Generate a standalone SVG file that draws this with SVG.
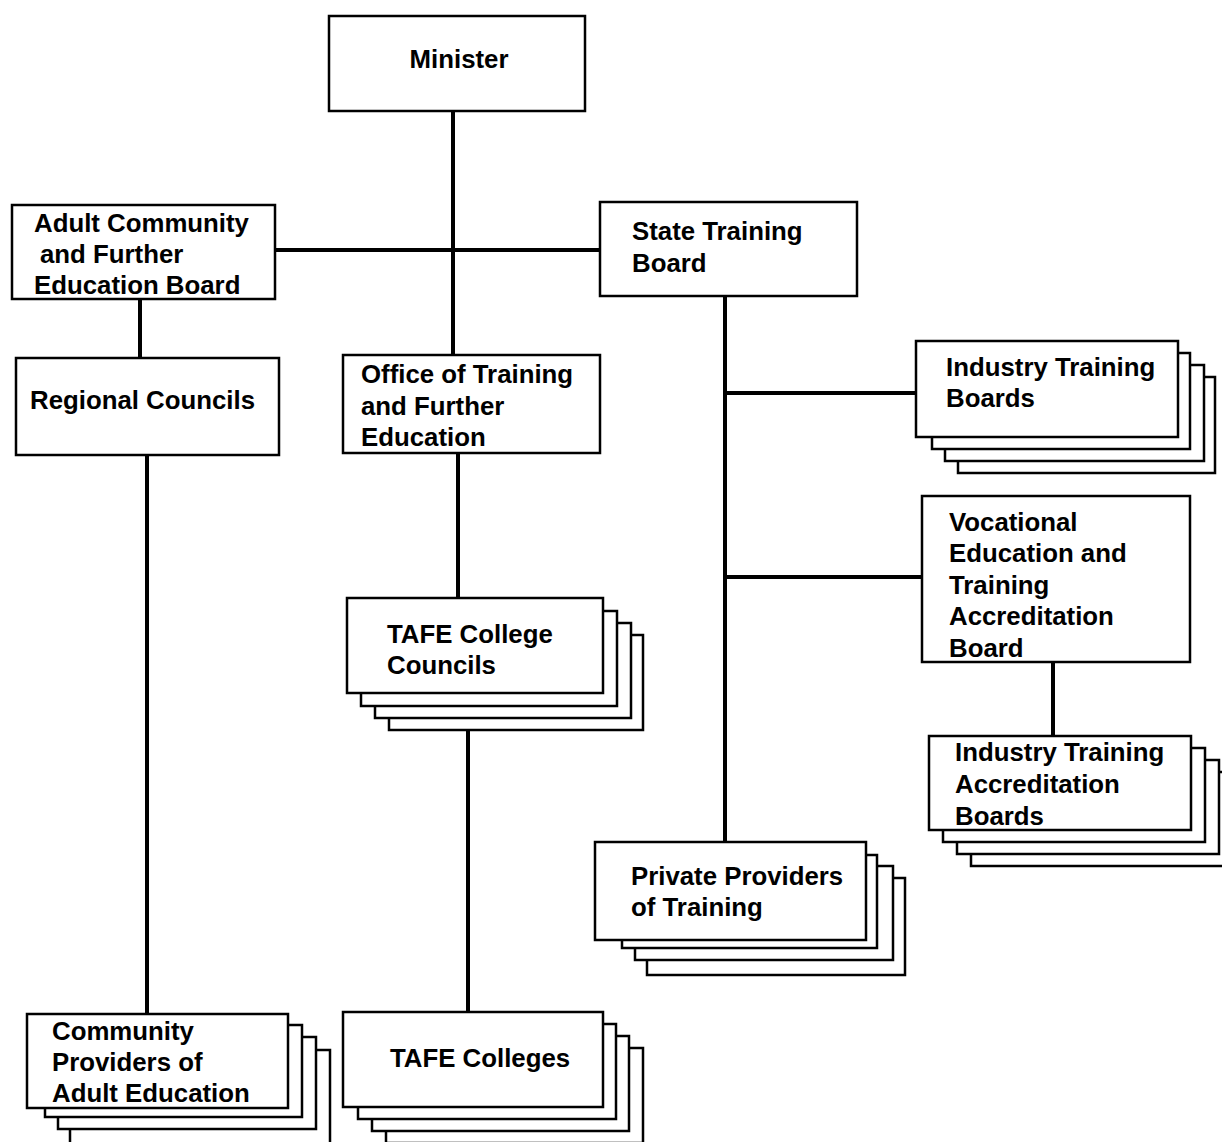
<svg xmlns="http://www.w3.org/2000/svg" width="1222" height="1142" viewBox="0 0 1222 1142">
<style>
.b{fill:#fff;stroke:#000;stroke-width:2.5}
.c{stroke:#000;stroke-width:4;fill:none}
text{font-family:"Liberation Sans",Arial,sans-serif;font-weight:bold;font-size:25.8px;fill:#000}
</style>
<rect width="1222" height="1142" fill="#fff"/>
<g id="connectors">
<line class="c" x1="453" y1="111" x2="453" y2="355"/>
<line class="c" x1="275" y1="250" x2="600" y2="250"/>
<line class="c" x1="140" y1="299" x2="140" y2="358"/>
<line class="c" x1="147" y1="455" x2="147" y2="1014"/>
<line class="c" x1="458" y1="453" x2="458" y2="598"/>
<line class="c" x1="468" y1="730" x2="468" y2="1012"/>
<line class="c" x1="725" y1="296" x2="725" y2="842"/>
<line class="c" x1="725" y1="393" x2="916" y2="393"/>
<line class="c" x1="725" y1="577" x2="922" y2="577"/>
<line class="c" x1="1053" y1="662" x2="1053" y2="736"/>
</g>
<g id="minister">
<rect class="b" x="329" y="16" width="256" height="95"/>
<text x="459" y="68" text-anchor="middle">Minister</text>
</g>
<g id="acfe">
<rect class="b" x="12" y="205" width="263" height="94"/>
<text x="34" y="232">Adult Community</text>
<text x="40" y="263">and Further</text>
<text x="34" y="294">Education Board</text>
</g>
<g id="stb">
<rect class="b" x="600" y="202" width="257" height="94"/>
<text x="632" y="240">State Training</text>
<text x="632" y="272">Board</text>
</g>
<g id="regional">
<rect class="b" x="16" y="358" width="263" height="97"/>
<text x="30" y="409">Regional Councils</text>
</g>
<g id="office">
<rect class="b" x="343" y="355" width="257" height="98"/>
<text x="361" y="383">Office of Training</text>
<text x="361" y="415">and Further</text>
<text x="361" y="446">Education</text>
</g>
<g id="itb">
<rect class="b" x="958" y="377" width="257" height="96"/>
<rect class="b" x="945" y="365" width="259" height="96"/>
<rect class="b" x="932" y="353" width="258" height="96"/>
<rect class="b" x="916" y="341" width="262" height="96"/>
<text x="946" y="376">Industry Training</text>
<text x="946" y="407">Boards</text>
</g>
<g id="vetab">
<rect class="b" x="922" y="496" width="268" height="166"/>
<text x="949" y="531">Vocational</text>
<text x="949" y="562">Education and</text>
<text x="949" y="594">Training</text>
<text x="949" y="625">Accreditation</text>
<text x="949" y="657">Board</text>
</g>
<g id="tafecc">
<rect class="b" x="389" y="635" width="254" height="95"/>
<rect class="b" x="375" y="623" width="256" height="95"/>
<rect class="b" x="361" y="611" width="256" height="95"/>
<rect class="b" x="347" y="598" width="256" height="95"/>
<text x="387" y="643">TAFE College</text>
<text x="387" y="674">Councils</text>
</g>
<g id="itab">
<rect class="b" x="971" y="772" width="262" height="94"/>
<rect class="b" x="957" y="760" width="262" height="94"/>
<rect class="b" x="943" y="748" width="262" height="94"/>
<rect class="b" x="929" y="736" width="262" height="94"/>
<text x="955" y="761">Industry Training</text>
<text x="955" y="793">Accreditation</text>
<text x="955" y="825">Boards</text>
</g>
<g id="private">
<rect class="b" x="647" y="878" width="258" height="97"/>
<rect class="b" x="635" y="866" width="258" height="94"/>
<rect class="b" x="622" y="855" width="255" height="93"/>
<rect class="b" x="595" y="842" width="271" height="98"/>
<text x="631" y="885">Private Providers</text>
<text x="631" y="916">of Training</text>
</g>
<g id="community">
<rect class="b" x="70" y="1050" width="260" height="94"/>
<rect class="b" x="58" y="1037" width="258" height="92"/>
<rect class="b" x="45" y="1025" width="257" height="92"/>
<rect class="b" x="27" y="1014" width="261" height="94"/>
<text x="52" y="1040">Community</text>
<text x="52" y="1071">Providers of</text>
<text x="52" y="1102">Adult Education</text>
</g>
<g id="tafec">
<rect class="b" x="386" y="1048" width="257" height="95"/>
<rect class="b" x="372" y="1036" width="257" height="95"/>
<rect class="b" x="358" y="1024" width="258" height="95"/>
<rect class="b" x="343" y="1012" width="260" height="95"/>
<text x="390" y="1067">TAFE Colleges</text>
</g>
</svg>
